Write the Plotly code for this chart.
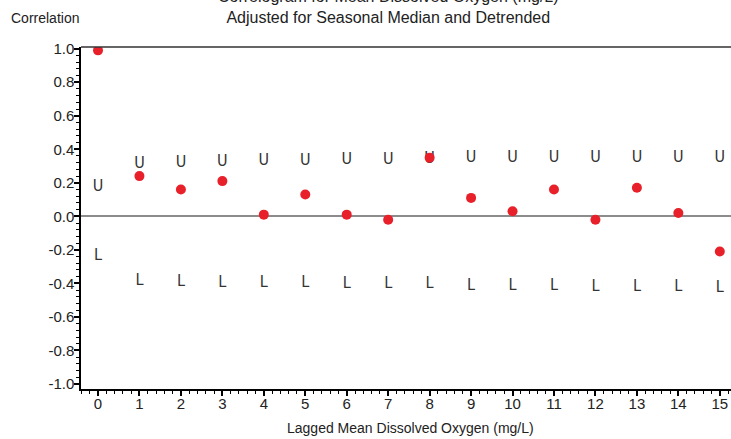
import plotly.graph_objects as go

lags = list(range(16))
acf = [0.99, 0.24, 0.16, 0.21, 0.01, 0.13, 0.01, -0.02, 0.35, 0.11, 0.03, 0.16, -0.02, 0.17, 0.02, -0.21]
upper = [0.175, 0.315, 0.32, 0.325, 0.33, 0.33, 0.335, 0.335, 0.34, 0.345, 0.345, 0.345, 0.35, 0.35, 0.35, 0.35]
lower = [-0.235, -0.385, -0.39, -0.395, -0.40, -0.40, -0.405, -0.405, -0.405, -0.415, -0.415, -0.415, -0.42, -0.42, -0.42, -0.425]
x_ticks = list(range(16))
y_ticks = [-1.0, -0.8, -0.6, -0.4, -0.2, 0.0, 0.2, 0.4, 0.6, 0.8, 1.0]
y_labels = ["%.1f" % v for v in y_ticks]

W, H = 731, 439
L, R, T, B = 81, 0, 47, 50
PW, PH = W - L - R, H - T - B

narrow = "Liberation Sans Narrow, DejaVu Sans Condensed, Arial Narrow, sans-serif"
fig = go.Figure()
fig.add_trace(go.Scatter(x=lags, y=upper, mode="text", text=["U"] * len(lags),
                         textfont=dict(family=narrow, size=16, color="#333333"),
                         hoverinfo="skip", showlegend=False))
fig.add_trace(go.Scatter(x=lags, y=lower, mode="text", text=["L"] * len(lags),
                         textfont=dict(family=narrow, size=16, color="#333333"),
                         hoverinfo="skip", showlegend=False))
fig.add_trace(go.Scatter(x=lags, y=acf, mode="markers",
                         marker=dict(color="#e8202a", size=10),
                         showlegend=False))

fig.update_layout(
    width=W, height=H,
    margin=dict(l=L, r=R, t=T, b=B, autoexpand=False),
    paper_bgcolor="white", plot_bgcolor="white",
    font=dict(family="Liberation Sans, Arial, sans-serif", color="#222222"),
    xaxis=dict(range=[-0.41, 15.27], tickvals=x_ticks, ticktext=[str(v) for v in x_ticks],
               showgrid=False, zeroline=False, showline=True, linecolor="#000000", linewidth=1.5,
               ticks="outside", ticklen=5, tickcolor="#000000", tickwidth=1.5,
               tickfont=dict(size=15), automargin=False, ticklabelstandoff=-5,
               minor=dict(dtick=0.2, ticks="outside", ticklen=3, tickcolor="#000000", tickwidth=1)),
    yaxis=dict(range=[-1.03, 1.01], tickvals=y_ticks, ticktext=y_labels,
               showgrid=False, zeroline=True, zerolinecolor="#8c8c8c", zerolinewidth=1.5,
               showline=True, linecolor="#000000", linewidth=1.5,
               ticks="outside", ticklen=5, tickcolor="#000000", tickwidth=1.5,
               tickfont=dict(size=15), automargin=False, ticklabelstandoff=-3,
               minor=dict(dtick=0.04, ticks="outside", ticklen=3, tickcolor="#000000", tickwidth=1)),
    shapes=[dict(type="line", xref="paper", yref="paper", x0=0, x1=1, y0=1, y1=1,
                 line=dict(color="#333333", width=1.5))],
    annotations=[
        dict(text="Correlogram for Mean Dissolved Oxygen (mg/L)<br>Adjusted for Seasonal Median and Detrended",
             xref="paper", yref="paper", x=(388 - L) / PW, y=1 + (T - 7) / PH,
             xanchor="center", yanchor="middle", showarrow=False,
             font=dict(size=16, color="#222222")),
        dict(text="Correlation", xref="paper", yref="paper",
             x=(9 - L) / PW, y=1 + (T - 18) / PH, xanchor="left", yanchor="middle",
             showarrow=False, font=dict(size=14, color="#222222")),
        dict(text="Lagged Mean Dissolved Oxygen (mg/L)", xref="paper", yref="paper",
             x=(410 - L) / PW, y=-(428 - (H - B)) / PH, xanchor="center", yanchor="middle",
             showarrow=False, font=dict(size=14, color="#222222")),
    ],
)

fig.write_html("out.html", config={"displayModeBar": False},
               post_script="document.body.style.margin='0';")
